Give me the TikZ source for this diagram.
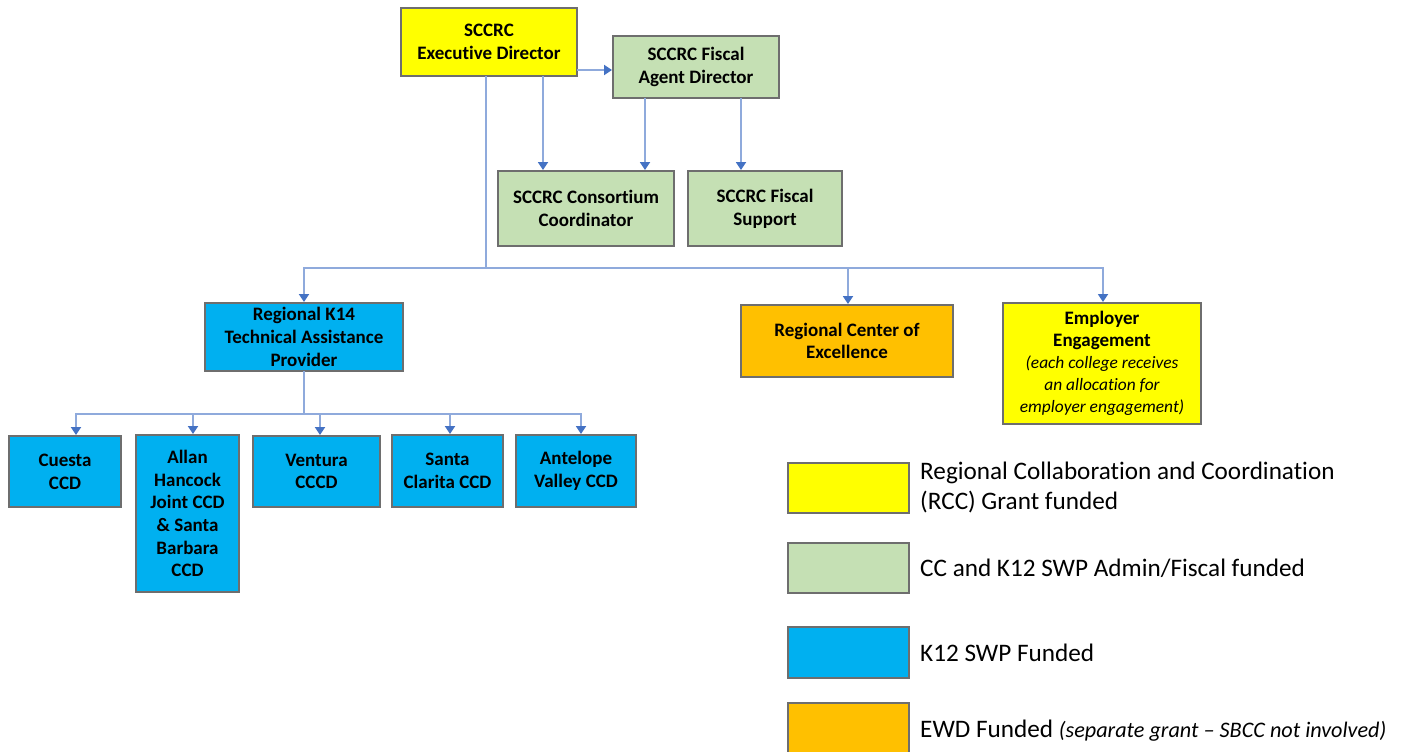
\documentclass[tikz,border=0pt]{standalone}
\usepackage{fontspec}
\setmainfont{Carlito}[Ligatures=NoCommon]
\usetikzlibrary{arrows.meta,positioning,calc}
\definecolor{cyel}{HTML}{FFFF00}
\definecolor{cgrn}{HTML}{C5E0B4}
\definecolor{cblu}{HTML}{00B0F0}
\definecolor{corg}{HTML}{FFC000}
\definecolor{cline}{HTML}{8FAADC}
\definecolor{ctip}{HTML}{4472C4}
\definecolor{cbord}{HTML}{6E6E6E}
\newcommand\emit[1]{{\fontsize{17.4}{21}\selectfont\mdseries\itshape #1}}
\tikzset{
  box/.style={draw=cbord, line width=1.2pt, inner sep=0pt, outer sep=0pt, align=center,
    font=\fontsize{19}{22.7}\selectfont\bfseries},
  conn/.style={draw=cline, line width=1.8pt},
  arr/.style={conn, -{Triangle[width=10pt,length=8pt,color=ctip]}, shorten >=1pt},
  legbox/.style={draw=cbord, line width=1.2pt, inner sep=0pt, outer sep=0pt, minimum width=121pt},
  legtxt/.style={anchor=west, align=left, inner sep=0pt, font=\fontsize{25.2}{30}\selectfont},
}
\begin{document}
\begin{tikzpicture}[x=1pt,y=-1pt]
\useasboundingbox (0,0) rectangle (1403,752);
% top level
\node[box, fill=cyel, minimum width=176pt, minimum height=68pt] (exec) at (489,42) {SCCRC\\Executive Director};
\node[box, fill=cgrn, minimum width=166pt, minimum height=62pt] (fa) at (696,67) {SCCRC Fiscal\\Agent Director};
\node[box, fill=cgrn, minimum width=176pt, minimum height=75pt] (cons) at (586,208.5) {SCCRC Consortium\\Coordinator};
\node[box, fill=cgrn, minimum width=154pt, minimum height=75pt] (fs) at (765,208.5) {SCCRC Fiscal\\Support};
% second level
\node[box, fill=cblu, minimum width=198pt, minimum height=68pt] (k14) at (304,337) {Regional K14\\Technical Assistance\\Provider};
\node[box, fill=corg, minimum width=212pt, minimum height=72pt] (coe) at (847,341) {Regional Center of\\Excellence};
\node[box, fill=cyel, minimum width=198pt, minimum height=121pt, font=\fontsize{19}{22}\selectfont\bfseries] (emp) at (1102,363.5) {Employer\\Engagement\\\emit{(each college receives}\\\emit{an allocation for}\\\emit{employer engagement)}};
% colleges
\node[box, fill=cblu, minimum width=112pt, minimum height=71pt] (cuesta) at (65,471.5) {Cuesta\\CCD};
\node[box, fill=cblu, minimum width=103pt, minimum height=157pt] (allan) at (187.5,513.5) {Allan\\Hancock\\Joint CCD\\\& Santa\\Barbara\\CCD};
\node[box, fill=cblu, minimum width=127pt, minimum height=71pt] (ventura) at (316.5,471.5) {Ventura\\CCCD};
\node[box, fill=cblu, minimum width=111pt, minimum height=72pt] (santa) at (447.5,471) {Santa\\Clarita CCD};
\node[box, fill=cblu, minimum width=120pt, minimum height=72pt] (antel) at (576,471) {Antelope\\Valley CCD};
% connectors top
\draw[arr] ([yshift=6pt]exec.south east) -- ([yshift=6pt]exec.south east -| fa.west);
\draw[arr] ([xshift=54pt]exec.south) -- ([xshift=54pt]exec.south |- cons.north);
\draw[arr] ([xshift=-51pt]fa.south) -- ([xshift=-51pt]fa.south |- cons.north);
\draw[arr] ([xshift=45pt]fa.south) -- ([xshift=45pt]fa.south |- fs.north);
\coordinate (bus) at (486,268);
\draw[conn] ([xshift=-3pt]exec.south) -- (bus);
\draw[arr] (bus) -| (k14.north);
\draw[arr] (bus) -| ([xshift=1pt]coe.north);
\draw[arr] (bus) -| ([xshift=1pt]emp.north);
% connectors colleges
\coordinate (bus2) at (304,414);
\draw[conn] (k14.south) -- (bus2);
\draw[arr] (bus2) -| ([xshift=11pt]cuesta.north);
\draw[arr] (bus2) -| ([xshift=5.5pt]allan.north);
\draw[arr] (bus2) -| ([xshift=3.5pt]ventura.north);
\draw[arr] (bus2) -| ([xshift=2.5pt]santa.north);
\draw[arr] (bus2) -| ([xshift=5pt]antel.north);
% legend
\node[legbox, fill=cyel, minimum height=50pt] (l1) at (848.5,488) {};
\node[legbox, fill=cgrn, minimum height=50pt] (l2) at (848.5,568) {};
\node[legbox, fill=cblu, minimum height=51pt] (l3) at (848.5,652.5) {};
\node[legbox, fill=corg, minimum height=56pt] (l4) at (848.5,731) {};
\node[legtxt] (t1) at (920,487) {Regional Collaboration and Coordination\\(RCC) Grant funded};
\node[legtxt] (t2) at (920,568) {CC and K12 SWP Admin/Fiscal funded};
\node[legtxt] (t3) at (920,653) {K12 SWP Funded};
\node[legtxt] (t4) at (920,731) {EWD Funded {\fontsize{22.2}{26}\selectfont\itshape (separate grant -- SBCC not involved)}};
\end{tikzpicture}
\end{document}
